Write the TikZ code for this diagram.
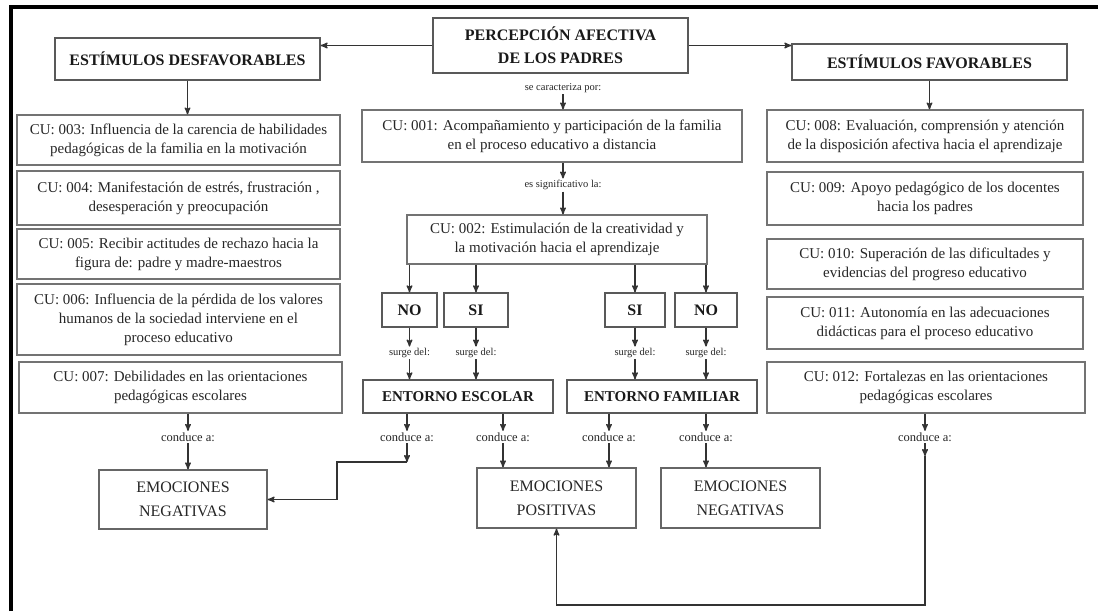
\documentclass[tikz,border=0pt]{standalone}
\usepackage{fontspec}
\setmainfont{Liberation Serif}
\usetikzlibrary{arrows, positioning}

\begin{document}
\begin{tikzpicture}[x=1pt, y=-1pt, ->, >=stealth', line width=1.4pt, black!80,
		cubox/.style={draw=black!55, line width=1.2pt, text=black!85, align=center, inner sep=2pt, font=\fontsize{15}{19}\selectfont},
		boldbox/.style={draw=black!65, line width=1.4pt, text=black!90, align=center, inner sep=2pt, font=\fontsize{16}{23}\selectfont\bfseries},
		emobox/.style={draw=black!60, line width=1.3pt, text=black!85, align=center, inner sep=2pt, font=\fontsize{16}{24}\selectfont},
		lab/.style={inner sep=1pt, text=black!85, font=\fontsize{10.5}{12}\selectfont},
		condlab/.style={lab, font=\fontsize{12.5}{14}\selectfont}]
	\useasboundingbox (0,0) rectangle (1098,611);
	\draw[-, line width=4pt, black] (11,611) -- (11,7) -- (1098,7);

	% cabecera
	\node[boldbox, minimum width=255, minimum height=55]	(titulo)	at (560.5,45.5)	{PERCEPCIÓN AFECTIVA\\DE LOS PADRES};
	\node[boldbox, minimum width=265, minimum height=42]	(desf)	at (187.5,59)	{ESTÍMULOS DESFAVORABLES};
	\node[boldbox, minimum width=275, minimum height=36]	(fav)	at (929.5,62)	{ESTÍMULOS FAVORABLES};

	% columna izquierda
	\node[cubox, minimum width=323, minimum height=50]	(cu003)	at (178.5,140)	{CU: 003: Influencia de la carencia de habilidades\\pedagógicas de la familia en la motivación};
	\node[cubox, minimum width=323, minimum height=54]	(cu004)	at (178.5,198)	{CU: 004: Manifestación de estrés, frustración ,\\desesperación y preocupación};
	\node[cubox, minimum width=323, minimum height=50]	(cu005)	at (178.5,254)	{CU: 005: Recibir actitudes de rechazo hacia la\\figura de: padre y madre-maestros};
	\node[cubox, minimum width=323, minimum height=71]	(cu006)	at (178.5,319.5)	{CU: 006: Influencia de la pérdida de los valores\\humanos de la sociedad interviene en el\\proceso educativo};
	\node[cubox, minimum width=323, minimum height=51]	(cu007)	at (180.5,387.5)	{CU: 007: Debilidades en las orientaciones\\pedagógicas escolares};
	\node[condlab]	(ca1)	at (188,437)	{conduce a:};
	\node[emobox, minimum width=168, minimum height=59]	(eneg1)	at (183,499.5)	{EMOCIONES\\NEGATIVAS};

	% columna central
	\node[lab]	(lab1)	at (563,88)	{se caracteriza por:};
	\node[cubox, minimum width=380, minimum height=52]	(cu001)	at (552,136)	{CU: 001: Acompañamiento y participación de la familia\\en el proceso educativo a distancia};
	\node[lab]	(lab2)	at (563,185)	{es significativo la:};
	\node[cubox, minimum width=300, minimum height=49]	(cu002)	at (557,239.5)	{CU: 002: Estimulación de la creatividad y\\la motivación hacia el aprendizaje};
	\node[boldbox, minimum width=55, minimum height=34]	(no1)	at (409.5,310)	{NO};
	\node[boldbox, minimum width=64, minimum height=34]	(si1)	at (476,310)	{SI};
	\node[boldbox, minimum width=60, minimum height=34]	(si2)	at (635,310)	{SI};
	\node[boldbox, minimum width=62, minimum height=34]	(no2)	at (706,310)	{NO};
	\node[lab]	(sd1)	at (409.5,353)	{surge del:};
	\node[lab]	(sd2)	at (476,353)	{surge del:};
	\node[lab]	(sd3)	at (635,353)	{surge del:};
	\node[lab]	(sd4)	at (706,353)	{surge del:};
	\node[boldbox, minimum width=190, minimum height=33, font=\fontsize{15}{18}\selectfont\bfseries]	(escolar)	at (458,396.5)	{ENTORNO ESCOLAR};
	\node[boldbox, minimum width=190, minimum height=33, font=\fontsize{15}{18}\selectfont\bfseries]	(familiar)	at (662,396.5)	{ENTORNO FAMILIAR};
	\node[condlab]	(ca2)	at (407,437)	{conduce a:};
	\node[condlab]	(ca3)	at (503,437)	{conduce a:};
	\node[condlab]	(ca4)	at (609,437)	{conduce a:};
	\node[condlab]	(ca5)	at (706,437)	{conduce a:};
	\node[emobox, minimum width=159, minimum height=60]	(epos)	at (556.5,498)	{EMOCIONES\\POSITIVAS};
	\node[emobox, minimum width=159, minimum height=60]	(eneg2)	at (740.5,498)	{EMOCIONES\\NEGATIVAS};
	\coordinate (j1) at (407,462);

	% columna derecha
	\node[cubox, minimum width=316, minimum height=52]	(cu008)	at (925,136)	{CU: 008: Evaluación, comprensión y atención\\de la disposición afectiva hacia el aprendizaje};
	\node[cubox, minimum width=316, minimum height=53]	(cu009)	at (925,198.5)	{CU: 009: Apoyo pedagógico de los docentes\\hacia los padres};
	\node[cubox, minimum width=316, minimum height=50]	(cu010)	at (925,264)	{CU: 010: Superación de las dificultades y\\evidencias del progreso educativo};
	\node[cubox, minimum width=316, minimum height=52]	(cu011)	at (925,323)	{CU: 011: Autonomía en las adecuaciones\\didácticas para el proceso educativo};
	\node[cubox, minimum width=318, minimum height=51]	(cu012)	at (926,387.5)	{CU: 012: Fortalezas en las orientaciones\\pedagógicas escolares};
	\node[condlab]	(ca6)	at (925,437)	{conduce a:};
	\coordinate (j2) at (925,456);

	\path	(titulo.west) edge (titulo.west -| desf.east)
			(titulo.east) edge (titulo.east -| fav.west)
			(desf.south) edge (desf.south |- cu003.north)
			(fav.south) edge (fav.south |- cu008.north)
			(lab1.south) edge (lab1.south |- cu001.north)
			(cu001.south -| lab2) edge (lab2.north)
			(lab2.south) edge (lab2.south |- cu002.north)
			(no1.north |- cu002.south) edge (no1.north)
			(si1.north |- cu002.south) edge (si1.north)
			(si2.north |- cu002.south) edge (si2.north)
			(no2.north |- cu002.south) edge (no2.north)
			(no1.south) edge (sd1.north)
			(si1.south) edge (sd2.north)
			(si2.south) edge (sd3.north)
			(no2.south) edge (sd4.north)
			(sd1.south) edge (sd1.south |- escolar.north)
			(sd2.south) edge (sd2.south |- escolar.north)
			(sd3.south) edge (sd3.south |- familiar.north)
			(sd4.south) edge (sd4.south |- familiar.north)
			(cu007.south -| ca1) edge (ca1.north)
			(ca1.south) edge (ca1.south |- eneg1.north)
			(escolar.south -| ca2) edge (ca2.north)
			(ca2.south) edge (j1)
			(escolar.south -| ca3) edge (ca3.north)
			(ca3.south) edge (ca3.south |- epos.north)
			(familiar.south -| ca4) edge (ca4.north)
			(ca4.south) edge (ca4.south |- epos.north)
			(familiar.south -| ca5) edge (ca5.north)
			(ca5.south) edge (ca5.south |- eneg2.north)
			(cu012.south -| ca6) edge (ca6.north)
			(ca6.south) edge (j2);

	\draw (j1) -- ++(-70,0) |- (eneg1.east);
	\draw (j2) -- ++(0,149) -| (epos.south);
\end{tikzpicture}
\end{document}
